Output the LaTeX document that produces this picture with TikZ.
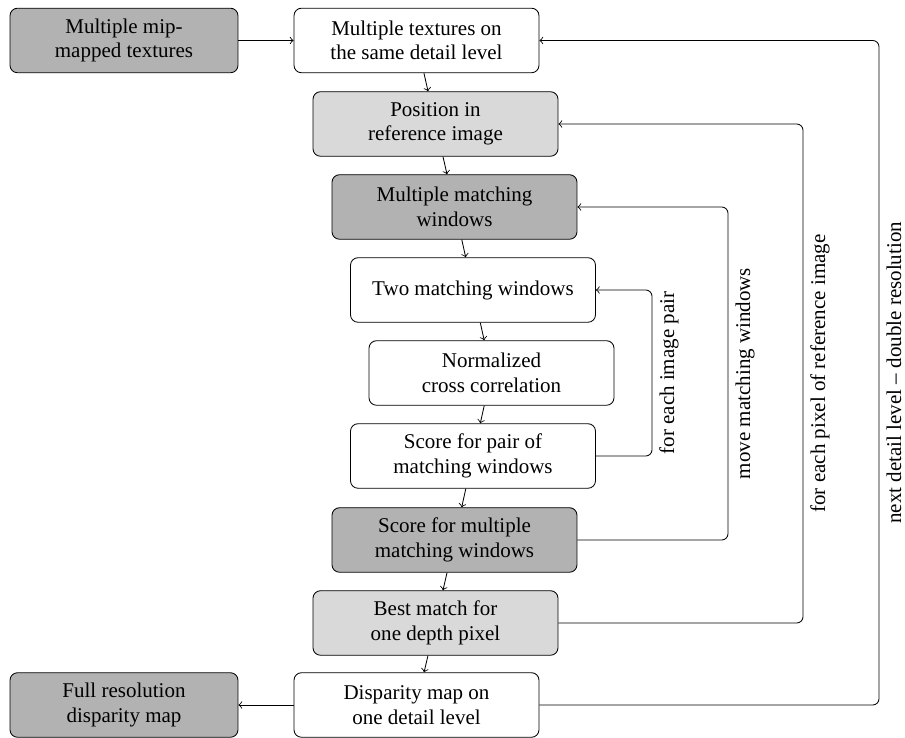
\documentclass[tikz,border=0pt]{standalone}
\usepackage{fontspec}
\setmainfont{Liberation Serif}
\definecolor{darkbox}{gray}{0.70}
\definecolor{lightbox}{gray}{0.85}
\begin{document}
\begin{tikzpicture}[x=0.476pt,y=-0.476pt,
  box/.style={draw, rounded corners=3.5pt, align=center, minimum width=116.6pt,
    minimum height=30.7pt, inner sep=2pt, font=\fontsize{10}{11.6}\selectfont},
  darkb/.style={box, fill=darkbox},
  lightb/.style={box, fill=lightbox},
  plainb/.style={box, fill=white},
  narrowb/.style={minimum width=108.5pt},
  lbl/.style={rotate=90, anchor=north, font=\fontsize{10}{12}\selectfont},
  loopline/.style={->, rounded corners=3pt},
  flow/.style={->}]
\useasboundingbox (0,0) rectangle (905,738);
\node[darkb,narrowb] (mip) at (124,40.5) {Multiple mip-\\mapped textures};
\node[plainb] (tex) at (416.5,40.5) {Multiple textures on\\the same detail level};
\node[lightb] (pos) at (435.5,124) {Position in\\reference image};
\node[darkb] (mmw) at (454.5,207) {Multiple matching\\windows};
\node[plainb] (two) at (473,290) {Two matching windows};
\node[plainb] (ncc) at (491.5,373) {Normalized\\cross correlation};
\node[plainb] (spw) at (473,456) {Score for pair of\\matching windows};
\node[darkb] (smw) at (454.5,540) {Score for multiple\\matching windows};
\node[lightb] (best) at (435.5,623) {Best match for\\one depth pixel};
\node[plainb] (disp) at (416.5,705) {Disparity map on\\one detail level};
\node[darkb,narrowb] (full) at (124,705) {Full resolution\\disparity map};

\draw[flow] (mip) -- (tex);
\draw[flow] (tex) -- (pos);
\draw[flow] (pos) -- (mmw);
\draw[flow] (mmw) -- (two);
\draw[flow] (two) -- (ncc);
\draw[flow] (ncc) -- (spw);
\draw[flow] (spw) -- (smw);
\draw[flow] (smw) -- (best);
\draw[flow] (best) -- (disp);
\draw[flow] (disp) -- (full);

\coordinate (cA) at (652,0);
\coordinate (cB) at (728,0);
\coordinate (cC) at (803,0);
\coordinate (cD) at (879,0);

\draw[loopline] (spw.east) -- (spw.east -| cA)
  -- node[midway,lbl] {for each image pair} (two.east -| cA) -- (two.east);
\draw[loopline] (smw.east) -- (smw.east -| cB)
  -- node[midway,lbl] {move matching windows} (mmw.east -| cB) -- (mmw.east);
\draw[loopline] (best.east) -- (best.east -| cC)
  -- node[midway,lbl] {for each pixel of reference image} (pos.east -| cC) -- (pos.east);
\draw[loopline] (disp.east) -- (disp.east -| cD)
  -- node[midway,lbl] {next detail level – double resolution} (tex.east -| cD) -- (tex.east);
\end{tikzpicture}
\end{document}
